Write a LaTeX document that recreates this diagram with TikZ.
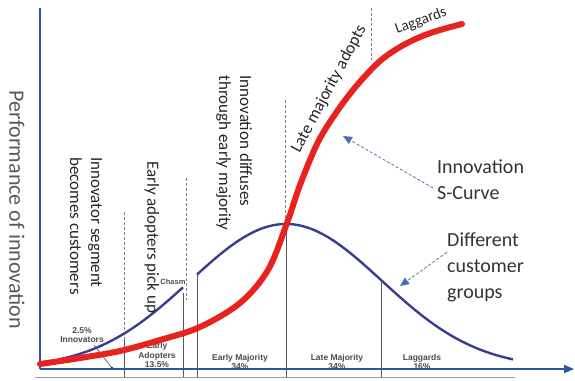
\documentclass[tikz,border=0pt]{standalone}
\usepackage{fontspec}
\setmainfont{Carlito}
\newfontfamily\labelfont{Liberation Sans}
\usetikzlibrary{arrows.meta}
\definecolor{scurvered}{HTML}{E8231F}
\definecolor{bellblue}{HTML}{3B3D94}
\definecolor{axisblue}{HTML}{2F55A4}
\definecolor{pointerblue}{HTML}{3B6FC4}

\begin{document}
\begin{tikzpicture}[x=1pt,y=-1pt,
	note/.style={text=black!85, align=left, inner sep=0pt, font=\fontsize{17}{21}\selectfont},
	big/.style={text=black!80, align=left, inner sep=0pt, font=\fontsize{20}{26}\selectfont},
	small/.style={text=black!70, align=center, inner sep=0pt, font=\labelfont\bfseries\fontsize{8.5}{9.5}\selectfont},
	divider/.style={black!65, line width=0.8pt},
	guide/.style={black!50, dash pattern=on 3pt off 2pt, line width=0.6pt},
	pointer/.style={pointerblue!60!gray, dash pattern=on 3pt off 2pt, line width=0.8pt, -{Triangle[length=9pt,width=8pt,fill=pointerblue]}}
	]
	\useasboundingbox (0,0) rectangle (575,380);

	% guides and dividers
	\draw[guide] (124,212) -- (124,345);
	\draw[guide] (186,178) -- (186,300);
	\draw[guide] (285,100) -- (285,224);
	\draw[guide] (371,8) -- (371,60);
	\draw[divider] (124,340) -- (124,377);
	\draw[divider] (183,293) -- (183,377);
	\draw[divider] (197,274) -- (197,377);
	\draw[divider] (286,224) -- (286,377);
	\draw[divider] (381,280) -- (381,377);
	\draw[black!40, line width=0.6pt] (35,377) -- (515,377);

	% groups under the bell
	\node[small] (innov) at (82,335) {2.5\%\\Innovators};
	\coordinate (innovtip) at (112,368);
	\draw[black!70, line width=0.6pt] (innov.south) ++(12pt,-2pt) -- (innovtip);
	\fill[black!80] (innovtip) circle (1.3pt);
	\node[small] (early) at (157,355) {Early\\Adopters\\13.5\%};
	\node[small] (earlymaj) at (240,362) {Early Majority\\34\%};
	\node[small] (latemaj) at (337,362) {Late Majority\\34\%};
	\node[small] (laggpct) at (422,362) {Laggards\\16\%};
	\node[small, font=\labelfont\bfseries\fontsize{7.5}{8}\selectfont] (chasm) at (173,282) {Chasm};

	% bell curve
	\draw[bellblue, line width=2.4pt] plot[domain=58:183, samples=60] (\x, {368-144*exp(-0.5*((\x-286)/95.7)^2)});
	\draw[bellblue, line width=2.4pt] plot[domain=197:513, samples=120] (\x, {368-144*exp(-0.5*((\x-286)/95.7)^2)});

	% axes
	\draw[axisblue, line width=1.8pt] (40,8) -- (40,369);
	\draw[axisblue, line width=1.8pt, -{Triangle[length=10pt,width=8pt]}] (40,369) -- (574,369);

	% S-curve
	\draw[scurvered, line width=6pt, line cap=round] plot[smooth, tension=0.55] coordinates {(40,364) (80,358) (120,351) (160,340) (200,327) (240,303) (268,270) (287,223) (300,185) (318,142) (338,110) (358,84) (380,61) (400,47) (420,37) (440,30) (462,24)};

	% stage notes
	\node[big, font=\fontsize{22}{26}\selectfont, text=black!65, rotate=-90] (perf) at (17,210) {Performance of innovation};
	\node[note, rotate=-90] (segment) at (86,226) {Innovator segment\\becomes customers};
	\node[note, rotate=-90] (pickup) at (152,237) {Early adopters pick up};
	\node[note, rotate=-90] (diffuse) at (234,153) {Innovation diffuses\\through early majority};
	\node[note, rotate=62] (lateadopt) at (329,89) {Late majority adopts};
	\node[note, font=\fontsize{15}{18}\selectfont, rotate=20] (laggards) at (421,21) {Laggards};

	% callouts
	\node[big, anchor=west] (scurve) at (437,180) {Innovation\\S-Curve};
	\node[big, anchor=west] (groups) at (447,267) {Different\\customer\\groups};
	\coordinate (scurvetip) at (343,136);
	\coordinate (groupstip) at (400,286);
	\draw[pointer] ([xshift=-4pt,yshift=-8pt]scurve.west) -- (scurvetip);
	\draw[pointer] ([yshift=-20pt]groups.north west) -- (groupstip);
\end{tikzpicture}
\end{document}
